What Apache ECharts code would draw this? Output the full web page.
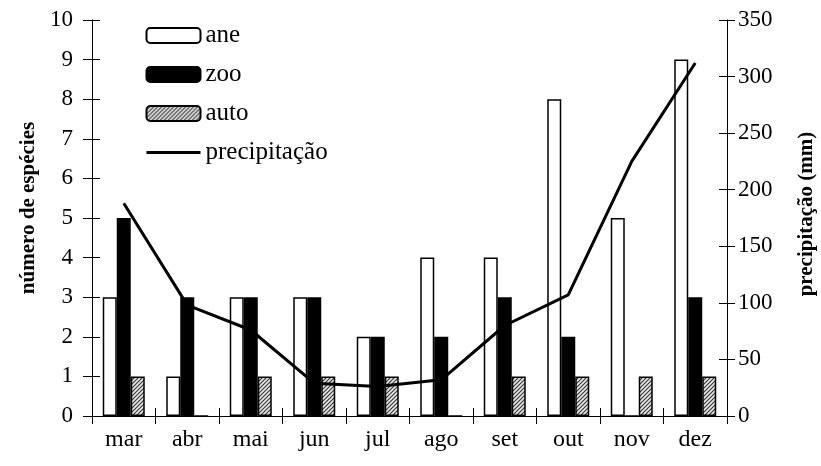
<!DOCTYPE html>
<html>
<head>
<meta charset="utf-8">
<script src="https://cdn.jsdelivr.net/npm/echarts@6/dist/echarts.min.js"></script>
<style>html,body{margin:0;padding:0;background:#fff}#c{width:821px;height:466px}</style>
</head>
<body>
<div id="c"></div>
<script>
const months = ['mar','abr','mai','jun','jul','ago','set','out','nov','dez'];
const ane = [3,1,3,3,2,4,4,8,5,9];
const zoo = [5,3,3,3,2,2,3,2,0,3];
const auto = [1,0,1,1,1,0,1,1,1,1];
const precipitacao = [188,98,76,29,26,32,80,107,225,312];
const leftTicks = [0,10,1];
const rightTicks = [0,350,50];

function hatch(){
  const c = document.createElement('canvas');
  c.width = 4; c.height = 4;
  const g = c.getContext('2d');
  g.fillStyle = '#e8e8e8'; g.fillRect(0,0,4,4);
  g.strokeStyle = '#333'; g.lineWidth = 1.1;
  g.beginPath();
  g.moveTo(-1,1); g.lineTo(1,-1);
  g.moveTo(-1,5); g.lineTo(5,-1);
  g.moveTo(3,5); g.lineTo(5,3);
  g.stroke();
  return c;
}
const FONT = 'Liberation Serif';
const chart = echarts.init(document.getElementById('c'));
const axisLine = {show:true, lineStyle:{color:'#000', width:1}};
chart.setOption({
  animation:false,
  textStyle:{fontFamily:FONT, color:'#000'},
  grid:{left:92, right:94, top:20, bottom:50, containLabel:false, outerBoundsMode:'none'},
  legend:{
    orient:'vertical', left:145, top:23, padding:0, itemWidth:54, itemHeight:15, itemGap:14,
    textStyle:{fontFamily:FONT, fontSize:25, lineHeight:25, color:'#000', padding:[0,0,0,0]},
    data:['ane','zoo','auto',
      {name:'precipitação', itemStyle:{color:'rgba(0,0,0,0)', borderColor:'rgba(0,0,0,0)', borderWidth:0},
       lineStyle:{color:'#000', width:3}}]
  },
  xAxis:[
    {type:'category', data:months, axisLine:axisLine,
     axisTick:{show:true, length:8, lineStyle:{color:'#000'}},
     axisLabel:{fontFamily:FONT, fontSize:24, color:'#000', margin:12}},
    {type:'category', data:months, position:'bottom', axisLine:{show:false},
     axisTick:{show:true, inside:true, length:8, lineStyle:{color:'#000'}},
     axisLabel:{show:false}}
  ],
  yAxis:[
    {type:'value', min:leftTicks[0], max:leftTicks[1], interval:leftTicks[2], position:'left',
     name:'número de espécies', nameLocation:'middle', nameRotate:90, nameGap:48,
     nameTextStyle:{fontFamily:FONT, fontSize:21, fontWeight:'bold', color:'#000', padding:[0,0,-5,20]},
     axisLine:axisLine, axisTick:{show:true, length:9, lineStyle:{color:'#000'}},
     axisLabel:{fontFamily:FONT, fontSize:23, color:'#000', margin:19}, splitLine:{show:false}},
    {type:'value', min:rightTicks[0], max:rightTicks[1], interval:rightTicks[2], position:'right',
     name:'precipitação (mm)', nameLocation:'middle', nameRotate:90, nameGap:69,
     nameTextStyle:{fontFamily:FONT, fontSize:21, fontWeight:'bold', color:'#000', padding:[0,0,0,8]},
     axisLine:axisLine, axisTick:{show:true, length:8, lineStyle:{color:'#000'}},
     axisLabel:{fontFamily:FONT, fontSize:23, color:'#000', margin:11}, splitLine:{show:false}},
    {type:'value', min:leftTicks[0], max:leftTicks[1], interval:leftTicks[2], position:'left',
     axisLine:{show:false}, axisTick:{show:true, inside:true, length:8, lineStyle:{color:'#000'}},
     axisLabel:{show:false}, splitLine:{show:false}},
    {type:'value', min:rightTicks[0], max:rightTicks[1], interval:rightTicks[2], position:'right',
     axisLine:{show:false}, axisTick:{show:true, inside:true, length:8, lineStyle:{color:'#000'}},
     axisLabel:{show:false}, splitLine:{show:false}}
  ],
  series:[
    {name:'ane', type:'bar', data:ane, barWidth:14, barGap:'0%',
     itemStyle:{color:'#fff', borderColor:'#000', borderWidth:1.5}},
    {name:'zoo', type:'bar', data:zoo, barWidth:14, barGap:'0%',
     itemStyle:{color:'#000', borderColor:'#000', borderWidth:1.5}},
    {name:'auto', type:'bar', data:auto, barWidth:14, barGap:'0%',
     itemStyle:{color:{image:hatch(), repeat:'repeat'}, borderColor:'#000', borderWidth:1.5}},
    {name:'precipitação', type:'line', yAxisIndex:1, data:precipitacao, symbol:'none', z:5,
     lineStyle:{color:'#000', width:3}, itemStyle:{color:'#000'}}
  ]
});
</script>
</body>
</html>
